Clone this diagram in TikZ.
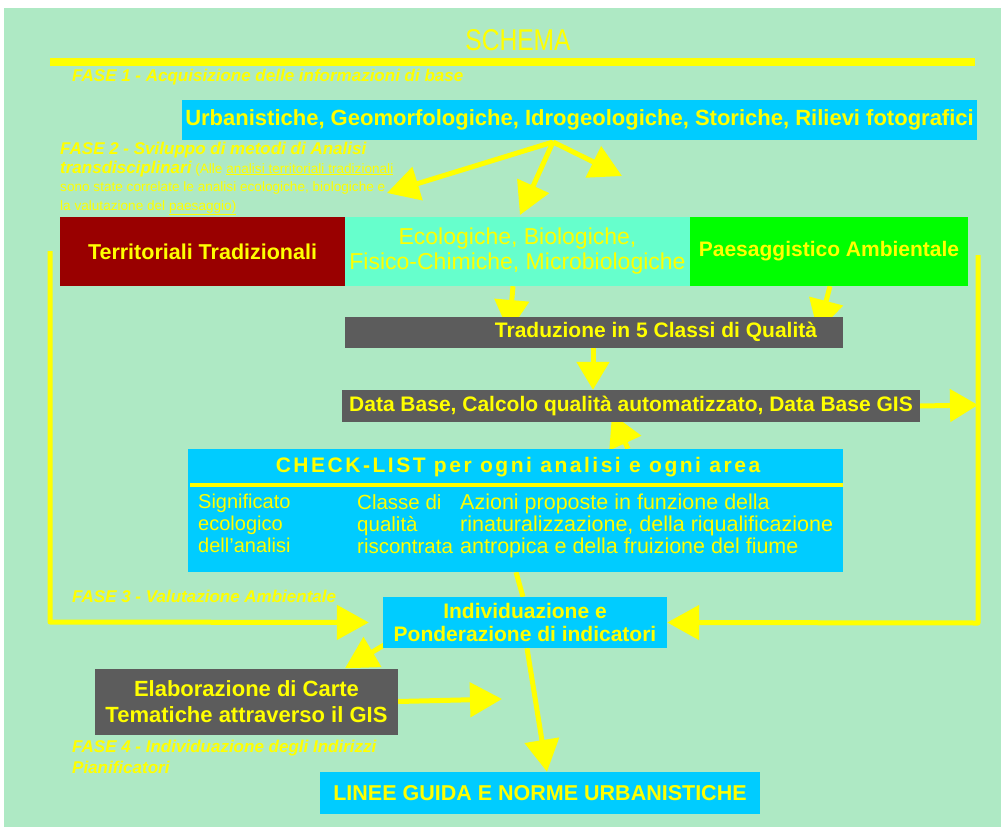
\documentclass[tikz,border=0pt]{standalone}
\usepackage{fontspec}
\setmainfont{Liberation Sans}
\newfontfamily\narrow[FakeStretch=0.82]{Liberation Sans}
\newfontfamily\spaced[LetterSpace=12]{Liberation Sans}
\usetikzlibrary{arrows.meta}
\pgfdeclarelayer{back}
\pgfdeclarelayer{arrows}
\pgfsetlayers{back,arrows,main}
\definecolor{bg}{HTML}{AEE9C4}
\definecolor{ylw}{HTML}{FFFF00}
\definecolor{sky}{HTML}{00CCFF}
\definecolor{dred}{HTML}{990000}
\definecolor{aqua}{HTML}{66FFCC}
\definecolor{lime}{HTML}{00FF00}
\definecolor{slate}{HTML}{5C5C5C}
\begin{document}
\begin{tikzpicture}[x=1pt,y=-1pt,
  box/.style={rectangle,inner sep=0pt,text=ylw,align=center},
  lbl/.style={inner sep=0pt,text=ylw,anchor=north west,align=left},
  arr/.style={draw=ylw,line width=5pt,-{Triangle[length=32pt,width=34pt]}},
  sarr/.style={draw=ylw,line width=5pt,-{Triangle[length=28pt,width=32pt]}},
  ln/.style={draw=ylw,line width=5pt}]
\useasboundingbox (0,0) rectangle (1001,827);
\begin{pgfonlayer}{back}
\fill[white] (0,0) rectangle (1001,827);
\fill[bg] (4,8) rectangle (1001,827);
\end{pgfonlayer}
% title
\node[box,font=\narrow\fontsize{30}{32}\selectfont] (title) at (518,40) {SCHEMA};
\draw[ylw,line width=8pt] (50,62) -- (975,62);
% FASE labels
\node[lbl,font=\bfseries\itshape\fontsize{17}{19}\selectfont] (f1) at (72,69) {FASE 1 - Acquisizione delle informazioni di base};
\node[lbl,font=\fontsize{13.6}{18.5}\selectfont] (f2) at (60,142) {{\bfseries\itshape\fontsize{17}{18.5}\selectfont FASE 2 - Sviluppo di metodi di Analisi}\\{\bfseries\itshape\fontsize{17}{18.5}\selectfont transdisciplinari} (Alle \underline{analisi territoriali tradizionali}\\sono state correlate le analisi ecologiche, biologiche e\\la valutazione del \underline{paesaggio)}};
\node[lbl,font=\bfseries\itshape\fontsize{17}{19}\selectfont] (f3) at (72,590) {FASE 3 - Valutazione Ambientale};
\node[lbl,font=\bfseries\itshape\fontsize{17}{21}\selectfont] (f4) at (72,740) {FASE 4 - Individuazione degli Indirizzi\\Pianificatori};
% top box
\node[box,fill=sky,minimum width=795pt,minimum height=40pt,font=\bfseries\fontsize{22}{24}\selectfont] (urb) at (579.5,120) {Urbanistiche, Geomorfologiche, Idrogeologiche, Storiche, Rilievi fotografici};
% row of three
\node[box,fill=dred,minimum width=285pt,minimum height=69pt,font=\bfseries\fontsize{21.5}{24}\selectfont] (terr) at (202.5,251.5) {Territoriali Tradizionali};
\node[box,fill=aqua,minimum width=345pt,minimum height=69pt,font=\fontsize{23}{25}\selectfont] (eco) at (517.5,251.5) {Ecologiche, Biologiche,\\Fisico-Chimiche, Microbiologiche};
\node[box,fill=lime,minimum width=278pt,minimum height=69pt,font=\bfseries\fontsize{21}{23}\selectfont] (paes) at (829,251.5) {Paesaggistico Ambientale};
% grey boxes
\node[box,fill=slate,minimum width=498pt,minimum height=31pt] (trad) at (594,332) {};
\node[box,font=\bfseries\fontsize{21}{23}\selectfont] (tradt) at (656,332) {Traduzione in 5 Classi di Qualità};
\node[box,fill=slate,minimum width=578pt,minimum height=32pt,font=\bfseries\fontsize{21}{23}\selectfont] (db) at (631,406) {Data Base, Calcolo qualità automatizzato, Data Base GIS};
% check-list
\node[box,fill=sky,minimum width=655pt,minimum height=123pt] (chk) at (515.5,510.5) {};
\node[box,font=\bfseries\spaced\fontsize{21}{23}\selectfont] (chkt) at (518,467) {CHECK-LIST per ogni analisi e ogni area};
\draw[ylw,line width=4pt] (190,485) -- (843,485);
\node[lbl,font=\fontsize{20}{22}\selectfont] (c1) at (198,494) {Significato\\ecologico\\dell’analisi};
\node[lbl,font=\fontsize{20.5}{22}\selectfont] (c2) at (357,494) {Classe di\\qualità\\riscontrata};
\node[lbl,font=\fontsize{21.5}{22}\selectfont] (c3) at (460,494) {Azioni proposte in funzione della\\rinaturalizzazione, della riqualificazione\\antropica e della fruizione del fiume};
% lower boxes
\node[box,fill=sky,minimum width=284pt,minimum height=51pt,font=\bfseries\fontsize{21}{23}\selectfont] (ind) at (525,622.5) {Individuazione e\\Ponderazione di indicatori};
\node[box,fill=slate,minimum width=303pt,minimum height=66pt,font=\bfseries\fontsize{22}{26}\selectfont] (ela) at (246.5,701.5) {Elaborazione di Carte\\Tematiche attraverso il GIS};
\node[box,fill=sky,minimum width=440pt,minimum height=42pt,font=\bfseries\fontsize{21.5}{23}\selectfont] (lin) at (540,793) {LINEE GUIDA E NORME URBANISTICHE};
% coordinates
\coordinate (o) at (553,142);
\coordinate (tl) at (387,193);
\coordinate (td) at (520,215);
\coordinate (tr) at (622,176);
\coordinate (lt) at (50,251);
\coordinate (lb) at (50,622);
\coordinate (rt) at (978,255);
\coordinate (rb) at (978,623);
\coordinate (rm) at (978,405);
\coordinate (em) at (502,699);
\coordinate (eci) at (509,332);
\coordinate (pai) at (818,332);
\coordinate (dbi) at (612,414);
% arrows
\begin{pgfonlayer}{arrows}
\draw[arr] (o) -- (tl);
\draw[arr] (o) -- (td);
\draw[arr] (o) -- (tr);
\draw[arr] (eco.south -| 513,0) -- (eci);
\draw[arr] (paes.south -| 830,0) -- (pai);
\draw[sarr] (trad.south -| 593,0) -- (db.north -| 593,0);
\draw[sarr] (db.east) -- (rm);
\draw[arr] (chk.north -| 628,0) -- (dbi);
\draw[ln] (chk.south -| 516,0) -- (ind.north -| 523,0);
\draw[arr,line join=round,shorten >=14pt] (lt) -- (lb) -- (ind.west);
\draw[arr,line join=round] (rt) -- (rb) -- (ind.east);
\draw[arr] (ind.south west) ++(6,-6) -- (ela.north -| 345,0);
\draw[arr] (ela.east) -- (em);
\draw[arr] (ind.south -| 527,0) -- (lin.north -| 547,0);
\end{pgfonlayer}
\end{tikzpicture}
\end{document}
